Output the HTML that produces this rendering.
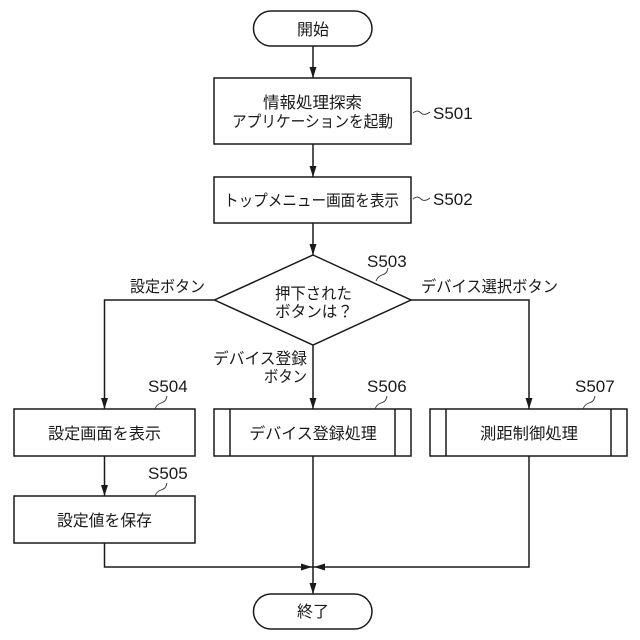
<!DOCTYPE html>
<html><head><meta charset="utf-8"><style>
html,body{margin:0;padding:0;background:#fff}
svg{display:block}
text{font-family:"Liberation Sans","Noto Sans CJK JP",sans-serif;font-size:16px;fill:#1a1a1a}
.c{text-anchor:middle}
.e{text-anchor:end}
.s{font-size:17px}
</style></head><body>
<svg width="640" height="640" viewBox="0 0 640 640" xmlns="http://www.w3.org/2000/svg">
<g fill="none" stroke="#1a1a1a" stroke-width="1.5">
<rect x="253.500" y="11" width="118.500" height="35" rx="17.500"/>
<rect x="214" y="78" width="197" height="66"/>
<rect x="214" y="177" width="197" height="46"/>
<polygon points="313,255 411,300 313,345 214.500,300"/>
<rect x="14" y="409" width="181" height="47"/>
<rect x="14" y="496" width="181" height="47"/>
<rect x="214" y="409" width="197" height="47"/>
<path d="M230 409V456M395 409V456"/>
<rect x="430" y="409" width="197" height="47"/>
<path d="M446 409V456M611 409V456"/>
<rect x="253.500" y="594" width="118.500" height="35" rx="17.500"/>
<path d="M313 46V78M313 144V177M313 223V255M313 345V409M313 456V594"/>
<path d="M214.500 300H104.500V409M104.500 456V496M104.500 543V567H313M411 300H529V409M529 456V567H313"/>
</g>
<g fill="#1a1a1a">
<path d="M309.500 67L316.500 67L313 78Z"/>
<path d="M309.500 166L316.500 166L313 177Z"/>
<path d="M309.500 244L316.500 244L313 255Z"/>
<path d="M309.500 398L316.500 398L313 409Z"/>
<path d="M309.500 583L316.500 583L313 594Z"/>
<path d="M101 398L108 398L104.500 409Z"/>
<path d="M101 485L108 485L104.500 496Z"/>
<path d="M525.500 398L532.500 398L529 409Z"/>
<path d="M301 563.500L301 570.500L312 567Z"/>
<path d="M325 563.500L325 570.500L314 567Z"/>
</g>
<g fill="none" stroke="#333" stroke-width="0.9">
<path d="M413 113c4-3 6-2 8 0s5 2 9-1"/>
<path d="M413 199c4-3 6-2 8 0s5 2 9-1"/>
<path d="M376 281c1-3 3-5 6-6s5-2 6-7"/>
<path d="M155 409c1-3 3-5 6-6s5-2 6-7"/>
<path d="M155 496c1-3 3-5 6-6s5-2 6-7"/>
<path d="M375 409c1-3 3-5 6-6s5-2 6-7"/>
<path d="M583 409c1-3 3-5 6-6s5-2 6-7"/>
</g>
<text class="c" x="313" y="35">開始</text>
<text x="263" y="108" textLength="99" lengthAdjust="spacingAndGlyphs">情報処理探索</text>
<text x="232" y="127" textLength="161" lengthAdjust="spacingAndGlyphs">アプリケーションを起動</text>
<text x="224" y="206" textLength="175" lengthAdjust="spacingAndGlyphs">トップメニュー画面を表示</text>
<text x="275" y="299" textLength="77" lengthAdjust="spacingAndGlyphs">押下された</text>
<text x="275" y="317" textLength="78" lengthAdjust="spacingAndGlyphs">ボタンは？</text>
<text x="130" y="292" textLength="75" lengthAdjust="spacingAndGlyphs">設定ボタン</text>
<text x="421" y="292" textLength="137" lengthAdjust="spacingAndGlyphs">デバイス選択ボタン</text>
<text x="213" y="364" textLength="94" lengthAdjust="spacingAndGlyphs">デバイス登録</text>
<text x="264" y="382" textLength="43" lengthAdjust="spacingAndGlyphs">ボタン</text>
<text x="48" y="439" textLength="113" lengthAdjust="spacingAndGlyphs">設定画面を表示</text>
<text x="57" y="526" textLength="95" lengthAdjust="spacingAndGlyphs">設定値を保存</text>
<text class="c" x="313" y="439">デバイス登録処理</text>
<text x="480" y="439" textLength="98" lengthAdjust="spacingAndGlyphs">測距制御処理</text>
<text class="c" x="313" y="617">終了</text>
<text class="s" x="433" y="119">S501</text>
<text class="s" x="433" y="205">S502</text>
<text class="s" x="367" y="267">S503</text>
<text class="s" x="148" y="392">S504</text>
<text class="s" x="148" y="479">S505</text>
<text class="s" x="367" y="392">S506</text>
<text class="s" x="575" y="392">S507</text>
</svg>
</body></html>
